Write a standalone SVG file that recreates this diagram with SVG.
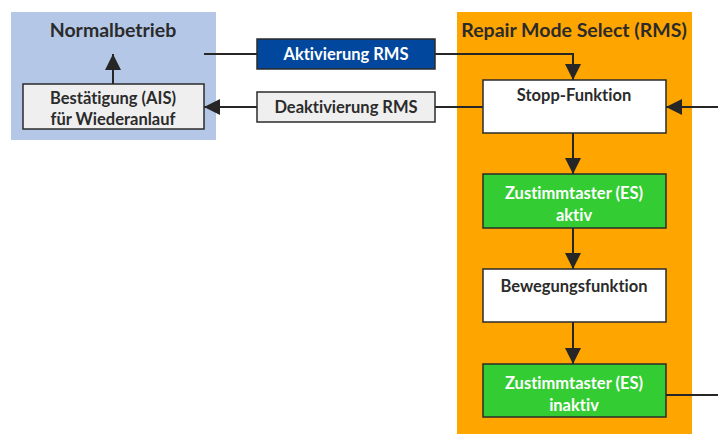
<svg xmlns="http://www.w3.org/2000/svg" width="718" height="434" viewBox="0 0 718 434">
<style>
text{font-family:Lato,"Open Sans","Liberation Sans",sans-serif;font-weight:bold;text-anchor:middle;font-variant-ligatures:none;font-feature-settings:"liga" 0,"dlig" 0}
.t{fill:#2b2b2b;font-size:16.5px}
.w{fill:#ffffff;font-size:16.5px}
.h{fill:#2b2b2b;font-size:19.5px}
.box{stroke:#2b2b2b;stroke-width:1.5}
.ln{stroke:#262626;stroke-width:2;fill:none}
</style>
<defs>
<marker id="ah" viewBox="0 0 16 16" refX="16" refY="8" markerWidth="16" markerHeight="16" markerUnits="userSpaceOnUse" orient="auto">
<path d="M0,0 L16,8 L0,16 Z" fill="#262626"/>
</marker>
</defs>
<g id="normalbetrieb">
<rect x="11" y="12" width="205" height="128" fill="#b4c7e7"/>
<text class="h" x="113" y="37">Normalbetrieb</text>
</g>
<g id="rms">
<rect x="457" y="12" width="235" height="422" fill="#ffa500"/>
<text class="h" x="574" y="37">Repair Mode Select (RMS)</text>
</g>
<g id="connectors">
<path class="ln" d="M204,54 H257"/>
<path class="ln" d="M435,54 H573 V80" marker-end="url(#ah)"/>
<path class="ln" d="M483,107 H435"/>
<path class="ln" d="M257,107 H204" marker-end="url(#ah)"/>
<path class="ln" d="M113,84 V54" marker-end="url(#ah)"/>
<path class="ln" d="M718,107 H666" marker-end="url(#ah)"/>
<path class="ln" d="M573,133 V174" marker-end="url(#ah)"/>
<path class="ln" d="M573,228 V269" marker-end="url(#ah)"/>
<path class="ln" d="M573,322 V364" marker-end="url(#ah)"/>
<path class="ln" d="M666,395 H718"/>
</g>
<g id="aktivierung">
<rect class="box" x="257" y="39" width="178" height="30" fill="#00479d"/>
<text class="w" x="346" y="60">Aktivierung RMS</text>
</g>
<g id="deaktivierung">
<rect class="box" x="257" y="92" width="178" height="30" fill="#efefef"/>
<text class="t" x="346" y="113">Deaktivierung RMS</text>
</g>
<g id="bestaetigung">
<rect class="box" x="23" y="84" width="181" height="45" fill="#efefef"/>
<text class="t" x="113" y="104">Bestätigung (AIS)</text>
<text class="t" x="113" y="125">für Wiederanlauf</text>
</g>
<g id="stopp">
<rect class="box" x="483" y="80" width="183" height="53" fill="#ffffff"/>
<text class="t" x="574" y="101">Stopp-Funktion</text>
</g>
<g id="es-aktiv">
<rect class="box" x="483" y="174" width="183" height="54" fill="#33cc33"/>
<text class="w" x="574" y="199">Zustimmtaster (ES)</text>
<text class="w" x="574" y="221">aktiv</text>
</g>
<g id="bewegung">
<rect class="box" x="483" y="269" width="183" height="53" fill="#ffffff"/>
<text class="t" x="574" y="292">Bewegungsfunktion</text>
</g>
<g id="es-inaktiv">
<rect class="box" x="483" y="364" width="183" height="53" fill="#33cc33"/>
<text class="w" x="574" y="389">Zustimmtaster (ES)</text>
<text class="w" x="574" y="411">inaktiv</text>
</g>
</svg>
